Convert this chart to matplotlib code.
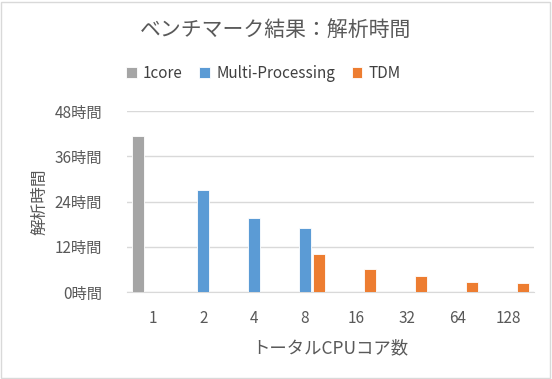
"""
ベンチマーク結果の棒グラフ.
"""

import numpy as np
import matplotlib
matplotlib.use('Agg')
import matplotlib.pyplot as plt
from matplotlib.patches import Rectangle

plt.rcParams['font.family'] = ['Noto Sans CJK JP', 'DejaVu Sans']

# # data (hours)
cores = ['1', '2', '4', '8', '16', '32', '64', '128']
one_core = [41.3, None, None, None, None, None, None, None]
multi_proc = [None, 27.2, 19.7, 16.9, None, None, None, None]
tdm = [None, None, None, 10.1, 6.1, 4.2, 2.7, 2.4]
y_ticks = [0, 12, 24, 36, 48]
y_tick_labels = [f'{v}時間' for v in y_ticks]

GRAY = '#A5A5A5'
BLUE = '#5B9BD5'
ORANGE = '#ED7D31'
TEXT = '#595959'

BAR_W = 0.235
OFFSET = 0.284


def plot_chart():
    fig = plt.figure(figsize=(5.52, 3.79), dpi=100)
    fig.patches.append(Rectangle((0.002, 0.003), 0.995, 0.993, transform=fig.transFigure,
                                 fill=False, edgecolor='#D9D9D9', linewidth=1))
    ax = fig.add_axes([0.230, 0.229, 0.737, 0.478])

    x = np.arange(len(cores))
    series = [(one_core, -OFFSET, GRAY, '1core'),
              (multi_proc, 0.0, BLUE, 'Multi-Processing'),
              (tdm, OFFSET, ORANGE, 'TDM')]
    for values, off, color, label in series:
        vals = [np.nan if v is None else v for v in values]
        ax.bar(x + off, vals, width=BAR_W, color=color, edgecolor='white',
               linewidth=0.6, label=label, zorder=3)

    ax.set_xlim(-0.5, len(cores) - 0.5)
    ax.set_ylim(0, 48)
    ax.set_yticks(y_ticks)
    ax.set_yticklabels(y_tick_labels)
    ax.set_xticks(x)
    ax.set_xticklabels(cores)
    ax.tick_params(axis='y', length=0, labelsize=11, colors=TEXT, pad=18)
    ax.tick_params(axis='x', length=0, labelsize=11, colors=TEXT, pad=13)
    ax.grid(axis='y', color='#D9D9D9', linewidth=1, zorder=0)
    for s in ['top', 'right', 'left']:
        ax.spines[s].set_visible(False)
    ax.spines['bottom'].set_color('#D9D9D9')

    ax.set_ylabel('解析時間', fontsize=12, color=TEXT, labelpad=4)
    ax.set_xlabel('トータルCPUコア数', fontsize=12.5, color=TEXT, labelpad=9)

    fig.text(0.5, 0.92, 'ベンチマーク結果：解析時間', ha='center', va='center',
             fontsize=15, color=TEXT)
    fig.legend(loc='center', bbox_to_anchor=(0.477, 0.807), ncol=3, frameon=False,
               fontsize=11, handlelength=0.7, handleheight=0.7, handletextpad=0.4,
               columnspacing=1.1, labelcolor='#404040')

    fig.savefig('out.png', dpi=100)


if __name__ == "__main__":
    plot_chart()
